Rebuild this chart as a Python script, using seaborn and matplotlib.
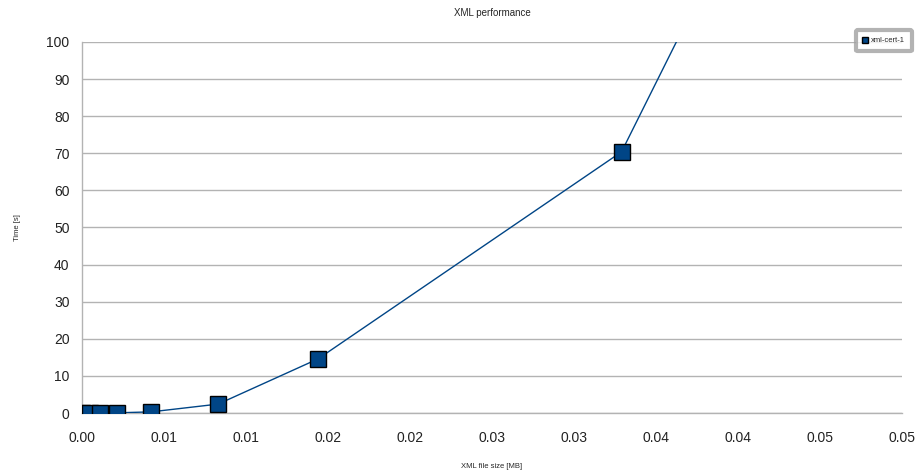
import matplotlib
matplotlib.use("Agg")
import matplotlib.pyplot as plt
import seaborn as sns
import pandas as pd

# valores
tam_mb = [0.00003, 0.0005, 0.0011, 0.00213, 0.0042, 0.0083, 0.0144, 0.0329, 0.0658]
tiempo_s = [0.0, 0.0, 0.01, 0.05, 0.3, 2.4, 14.6, 70.4, 362.0]
serie = "xml-cert-1"
xticks = [0, 0.005, 0.01, 0.015, 0.02, 0.025, 0.03, 0.035, 0.04, 0.045, 0.05]
xtick_labels = ["0.00", "0.01", "0.01", "0.02", "0.02", "0.03", "0.03", "0.04", "0.04", "0.05", "0.05"]
yticks = list(range(0, 101, 10))

df = pd.DataFrame({"size": tam_mb, "time": tiempo_s, "serie": serie})

sns.set_style("white")
plt.rcParams["font.family"] = ["Liberation Sans", "DejaVu Sans"]

fig = plt.figure(figsize=(9.2, 4.73), dpi=100)
ax = fig.add_axes([82 / 920, 1 - 413 / 473, 820 / 920, 371 / 473])

sns.lineplot(data=df, x="size", y="time", hue="serie", palette=["#004586"],
             marker="s", markersize=11, markeredgecolor="black", markeredgewidth=1,
             linewidth=1, ax=ax, zorder=3)

ax.set_xlim(0, 0.05)
ax.set_ylim(0, 100)
ax.set_xticks(xticks)
ax.set_xticklabels(xtick_labels)
ax.set_yticks(yticks)
ax.yaxis.grid(True, color="#b3b3b3", linewidth=1)
ax.xaxis.grid(False)
ax.set_axisbelow(True)
for s in ["top", "right"]:
    ax.spines[s].set_visible(False)
for s in ["left", "bottom"]:
    ax.spines[s].set_color("#b3b3b3")
    ax.spines[s].set_linewidth(1)
ax.tick_params(axis="both", which="both", direction="out", length=5, width=1,
               color="#b3b3b3", labelsize=10, labelcolor="#222222", pad=4)
ax.tick_params(axis="x", pad=8)

ax.set_title("XML performance", fontsize=7, pad=19)
ax.set_xlabel("XML file size [MB]", fontsize=5.5, labelpad=13)
ax.set_ylabel("Time [s]", fontsize=5.5, labelpad=18)

leg = ax.legend(loc="upper right", bbox_to_anchor=(1.012, 1.032), borderaxespad=0,
                fontsize=5.5, frameon=True, fancybox=True, markerscale=0.45,
                handlelength=0.5, handletextpad=0.5, borderpad=0.9)
leg.get_frame().set_edgecolor("#a0a0a0")
leg.get_frame().set_linewidth(3)
for h in leg.legend_handles:
    h.set_linestyle("none")

fig.savefig("out.png", dpi=100)
plt.close(fig)
